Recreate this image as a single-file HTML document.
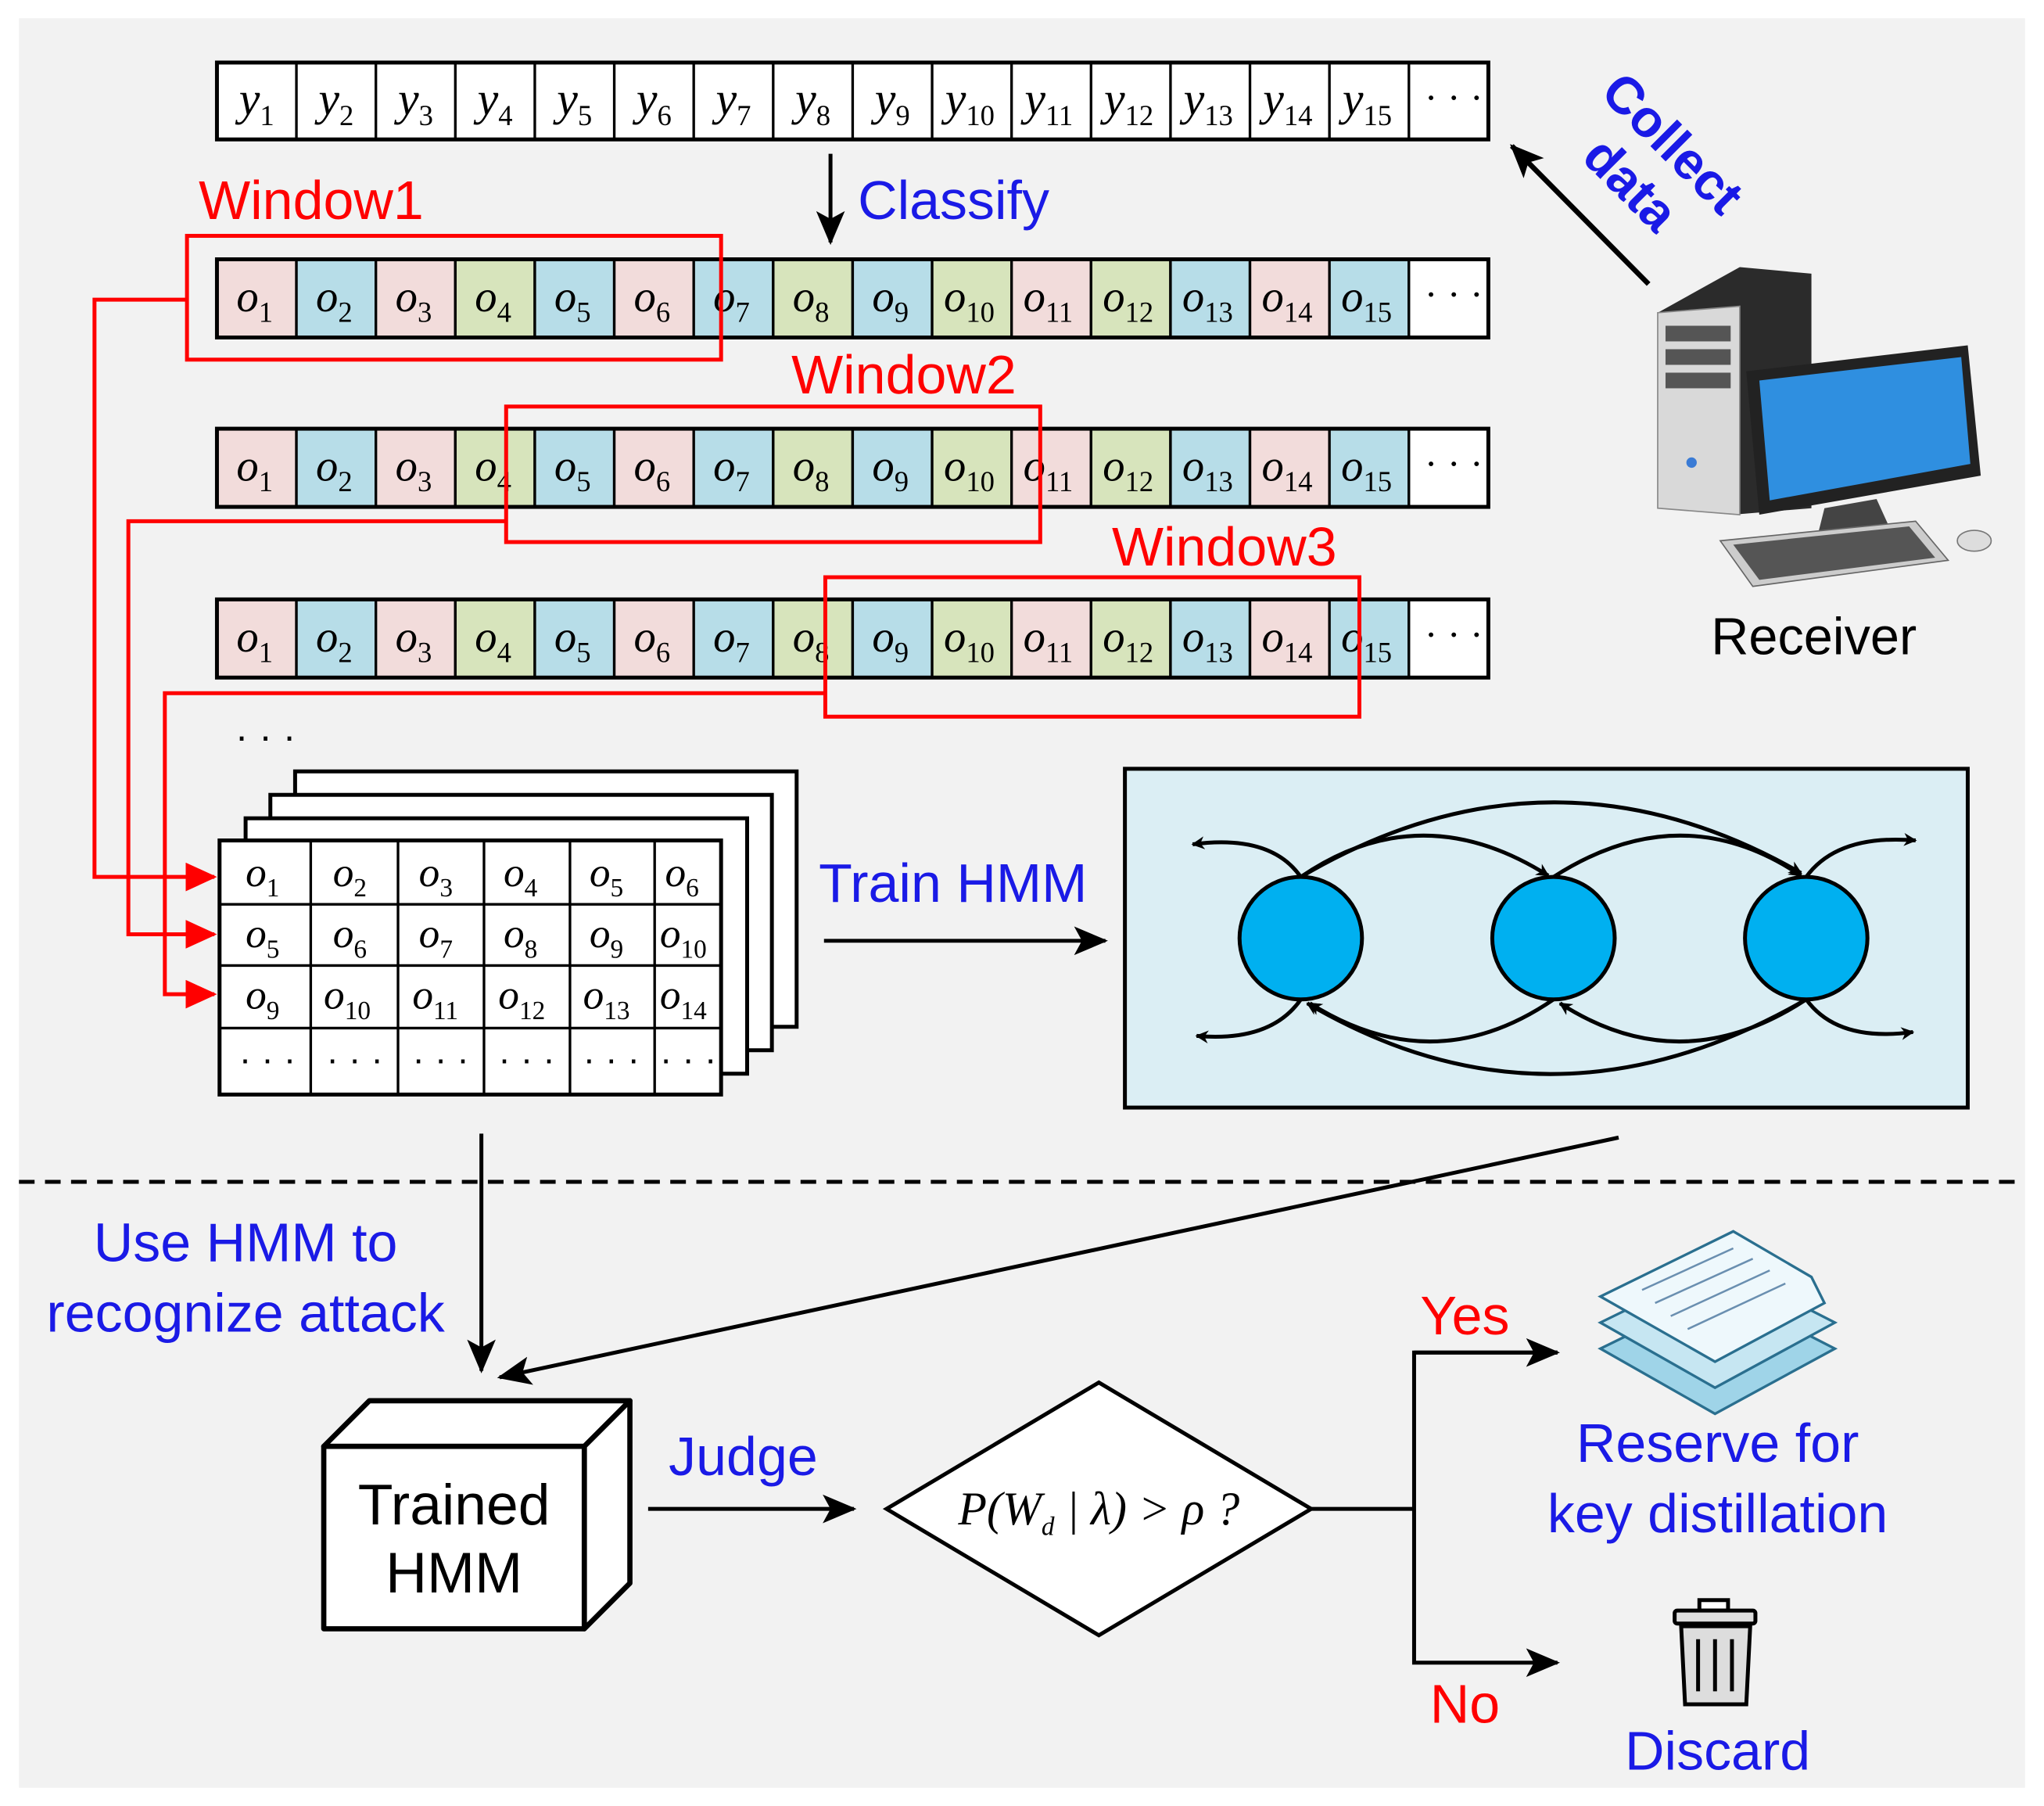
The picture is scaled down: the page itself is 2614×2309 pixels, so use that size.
<!DOCTYPE html>
<html><head><meta charset="utf-8"><style>html,body{margin:0;padding:0;background:#fff}svg{display:block}</style></head>
<body>
<svg width="2614" height="2309" viewBox="0 0 1568 1386" xmlns="http://www.w3.org/2000/svg" font-family="Liberation Sans, sans-serif">
<defs>
<marker id="ab" markerWidth="10" markerHeight="10" refX="9" refY="5" orient="auto" markerUnits="userSpaceOnUse" viewBox="0 0 10 10"><path d="M0,0 L10,5 L0,10 L3,5z" fill="#000"/></marker>
<marker id="abL" markerWidth="26" markerHeight="22" refX="24" refY="11" orient="auto" markerUnits="userSpaceOnUse" viewBox="0 0 26 22"><path d="M0,0 L26,11 L0,22 L6,11z" fill="#000"/></marker>
<marker id="ar" markerWidth="24" markerHeight="22" refX="22" refY="11" orient="auto" markerUnits="userSpaceOnUse" viewBox="0 0 24 22"><path d="M0,0 L24,11 L0,22 z" fill="#f00"/></marker>
<g id="r1">
<g stroke="#000" stroke-width="2">
<rect x="166" y="0" width="61" height="60" fill="#f2dcdb"/><rect x="227" y="0" width="61" height="60" fill="#b7dde8"/><rect x="288" y="0" width="61" height="60" fill="#f2dcdb"/><rect x="349" y="0" width="61" height="60" fill="#d7e4bc"/><rect x="410" y="0" width="61" height="60" fill="#b7dde8"/><rect x="471" y="0" width="61" height="60" fill="#f2dcdb"/><rect x="532" y="0" width="61" height="60" fill="#b7dde8"/><rect x="593" y="0" width="61" height="60" fill="#d7e4bc"/><rect x="654" y="0" width="61" height="60" fill="#b7dde8"/><rect x="715" y="0" width="61" height="60" fill="#d7e4bc"/><rect x="776" y="0" width="61" height="60" fill="#f2dcdb"/><rect x="837" y="0" width="61" height="60" fill="#d7e4bc"/><rect x="898" y="0" width="61" height="60" fill="#b7dde8"/><rect x="959" y="0" width="61" height="60" fill="#f2dcdb"/><rect x="1020" y="0" width="61" height="60" fill="#b7dde8"/><rect x="1081" y="0" width="61" height="60" fill="#fff"/>
<rect x="166" y="0" width="976" height="60" fill="none" stroke-width="3"/>
</g>
<g font-family="Liberation Serif, serif" font-style="italic" font-size="34">
<text x="181" y="40">o<tspan font-size="22" dy="8" font-style="normal">1</tspan></text>
<text x="242" y="40">o<tspan font-size="22" dy="8" font-style="normal">2</tspan></text>
<text x="303" y="40">o<tspan font-size="22" dy="8" font-style="normal">3</tspan></text>
<text x="364" y="40">o<tspan font-size="22" dy="8" font-style="normal">4</tspan></text>
<text x="425" y="40">o<tspan font-size="22" dy="8" font-style="normal">5</tspan></text>
<text x="486" y="40">o<tspan font-size="22" dy="8" font-style="normal">6</tspan></text>
<text x="547" y="40">o<tspan font-size="22" dy="8" font-style="normal">7</tspan></text>
<text x="608" y="40">o<tspan font-size="22" dy="8" font-style="normal">8</tspan></text>
<text x="669" y="40">o<tspan font-size="22" dy="8" font-style="normal">9</tspan></text>
<text x="724" y="40">o<tspan font-size="22" dy="8" font-style="normal">10</tspan></text>
<text x="785" y="40">o<tspan font-size="22" dy="8" font-style="normal">11</tspan></text>
<text x="846" y="40">o<tspan font-size="22" dy="8" font-style="normal">12</tspan></text>
<text x="907" y="40">o<tspan font-size="22" dy="8" font-style="normal">13</tspan></text>
<text x="968" y="40">o<tspan font-size="22" dy="8" font-style="normal">14</tspan></text>
<text x="1029" y="40">o<tspan font-size="22" dy="8" font-style="normal">15</tspan></text>
<text x="1093" y="37" font-style="normal" font-size="30">· · ·</text>
</g>
</g>
</defs>
<rect x="0" y="0" width="1568" height="1386" fill="#fff"/>
<rect x="14" y="14" width="1540" height="1358" fill="#f2f2f2"/>

<!-- y row -->
<rect x="166" y="48" width="976" height="59" stroke="#000" stroke-width="3" fill="#fff"/>
<g stroke="#000" stroke-width="2">
<line x1="227" y1="48" x2="227" y2="107"/><line x1="288" y1="48" x2="288" y2="107"/><line x1="349" y1="48" x2="349" y2="107"/><line x1="410" y1="48" x2="410" y2="107"/><line x1="471" y1="48" x2="471" y2="107"/><line x1="532" y1="48" x2="532" y2="107"/><line x1="593" y1="48" x2="593" y2="107"/><line x1="654" y1="48" x2="654" y2="107"/><line x1="715" y1="48" x2="715" y2="107"/><line x1="776" y1="48" x2="776" y2="107"/><line x1="837" y1="48" x2="837" y2="107"/><line x1="898" y1="48" x2="898" y2="107"/><line x1="959" y1="48" x2="959" y2="107"/><line x1="1020" y1="48" x2="1020" y2="107"/><line x1="1081" y1="48" x2="1081" y2="107"/>
</g>
<g font-family="Liberation Serif, serif" font-style="italic" font-size="36">
<text x="183" y="88">y<tspan font-size="22" dy="8" font-style="normal">1</tspan></text>
<text x="244" y="88">y<tspan font-size="22" dy="8" font-style="normal">2</tspan></text>
<text x="305" y="88">y<tspan font-size="22" dy="8" font-style="normal">3</tspan></text>
<text x="366" y="88">y<tspan font-size="22" dy="8" font-style="normal">4</tspan></text>
<text x="427" y="88">y<tspan font-size="22" dy="8" font-style="normal">5</tspan></text>
<text x="488" y="88">y<tspan font-size="22" dy="8" font-style="normal">6</tspan></text>
<text x="549" y="88">y<tspan font-size="22" dy="8" font-style="normal">7</tspan></text>
<text x="610" y="88">y<tspan font-size="22" dy="8" font-style="normal">8</tspan></text>
<text x="671" y="88">y<tspan font-size="22" dy="8" font-style="normal">9</tspan></text>
<text x="725" y="88">y<tspan font-size="22" dy="8" font-style="normal">10</tspan></text>
<text x="786" y="88">y<tspan font-size="22" dy="8" font-style="normal">11</tspan></text>
<text x="847" y="88">y<tspan font-size="22" dy="8" font-style="normal">12</tspan></text>
<text x="908" y="88">y<tspan font-size="22" dy="8" font-style="normal">13</tspan></text>
<text x="969" y="88">y<tspan font-size="22" dy="8" font-style="normal">14</tspan></text>
<text x="1030" y="88">y<tspan font-size="22" dy="8" font-style="normal">15</tspan></text>
<text x="1093" y="85" font-style="normal" font-size="30">· · ·</text>
</g>

<use href="#r1" transform="translate(0,199)"/>
<use href="#r1" transform="translate(0,329)"/>
<use href="#r1" transform="translate(0,460)"/>

<!-- classify -->
<line x1="637" y1="118" x2="637" y2="186" stroke="#000" stroke-width="3" marker-end="url(#abL)"/>
<text x="658" y="168" font-size="42" fill="#1a1ae6">Classify</text>

<!-- windows -->
<g fill="none" stroke="#f00" stroke-width="3">
<rect x="143" y="181" width="410" height="95"/>
<rect x="388" y="312" width="410" height="104"/>
<rect x="633" y="443" width="410" height="107"/>
<polyline points="143,230 72,230 72,673 164,673" marker-end="url(#ar)"/>
<polyline points="388,400 98,400 98,717 164,717" marker-end="url(#ar)"/>
<polyline points="633,532 126,532 126,763 164,763" marker-end="url(#ar)"/>
</g>
<g font-size="42" fill="#f00">
<text x="152" y="168">Window1</text>
<text x="607" y="302">Window2</text>
<text x="853" y="434">Window3</text>
</g>

<!-- collect data -->
<line x1="1265" y1="218" x2="1160" y2="112" stroke="#000" stroke-width="4" marker-end="url(#abL)"/>
<g font-size="40" font-weight="bold" fill="#1a1ae6" transform="translate(-25,2) rotate(45 1280 120)">
<text x="1225" y="105">Collect</text>
<text x="1250" y="150">data</text>
</g>

<!-- computer -->
<g>
<polygon points="1272,240 1335,205 1390,210 1390,390 1330,395 1272,390" fill="#2b2b2b"/>
<polygon points="1272,240 1335,235 1335,395 1272,390" fill="#d9d9d9" stroke="#888"/>
<rect x="1278" y="250" width="50" height="12" fill="#555"/>
<rect x="1278" y="268" width="50" height="12" fill="#555"/>
<rect x="1278" y="286" width="50" height="12" fill="#555"/>
<circle cx="1298" cy="355" r="4" fill="#3a7bd5"/>
<polygon points="1340,285 1510,265 1520,365 1350,395" fill="#222"/>
<polygon points="1350,292 1505,274 1512,356 1358,384" fill="#2f8fe0"/>
<polygon points="1400,390 1440,383 1450,405 1395,410" fill="#444"/>
<polygon points="1320,415 1470,400 1495,430 1345,450" fill="#ccc" stroke="#666"/>
<polygon points="1330,418 1465,404 1485,428 1350,445" fill="#555"/>
<ellipse cx="1515" cy="415" rx="13" ry="8" fill="#ddd" stroke="#777"/>
</g>
<text x="1313" y="502" font-size="40" fill="#000">Receiver</text>

<!-- table stack -->
<text x="180" y="575" font-size="30">· · ·</text>
<g stroke="#000" stroke-width="3" fill="#fff">
<rect x="226" y="592" width="385" height="196"/>
<rect x="207" y="610" width="385" height="196"/>
<rect x="188" y="628" width="385" height="196"/>
<rect x="168" y="645" width="385" height="195"/>
</g>
<g stroke="#000" stroke-width="2">
<line x1="238" y1="645" x2="238" y2="840"/><line x1="305" y1="645" x2="305" y2="840"/><line x1="371" y1="645" x2="371" y2="840"/><line x1="437" y1="645" x2="437" y2="840"/><line x1="502" y1="645" x2="502" y2="840"/>
<line x1="168" y1="694" x2="553" y2="694"/><line x1="168" y1="741" x2="553" y2="741"/><line x1="168" y1="789" x2="553" y2="789"/>
</g>
<g font-family="Liberation Serif, serif" font-style="italic" font-size="32">
<text x="188" y="680">o<tspan font-size="20" dy="8" font-style="normal">1</tspan></text>
<text x="255" y="680">o<tspan font-size="20" dy="8" font-style="normal">2</tspan></text>
<text x="321" y="680">o<tspan font-size="20" dy="8" font-style="normal">3</tspan></text>
<text x="386" y="680">o<tspan font-size="20" dy="8" font-style="normal">4</tspan></text>
<text x="452" y="680">o<tspan font-size="20" dy="8" font-style="normal">5</tspan></text>
<text x="510" y="680">o<tspan font-size="20" dy="8" font-style="normal">6</tspan></text>
<text x="188" y="727">o<tspan font-size="20" dy="8" font-style="normal">5</tspan></text>
<text x="255" y="727">o<tspan font-size="20" dy="8" font-style="normal">6</tspan></text>
<text x="321" y="727">o<tspan font-size="20" dy="8" font-style="normal">7</tspan></text>
<text x="386" y="727">o<tspan font-size="20" dy="8" font-style="normal">8</tspan></text>
<text x="452" y="727">o<tspan font-size="20" dy="8" font-style="normal">9</tspan></text>
<text x="506" y="727">o<tspan font-size="20" dy="8" font-style="normal">10</tspan></text>
<text x="188" y="774">o<tspan font-size="20" dy="8" font-style="normal">9</tspan></text>
<text x="248" y="774">o<tspan font-size="20" dy="8" font-style="normal">10</tspan></text>
<text x="316" y="774">o<tspan font-size="20" dy="8" font-style="normal">11</tspan></text>
<text x="382" y="774">o<tspan font-size="20" dy="8" font-style="normal">12</tspan></text>
<text x="447" y="774">o<tspan font-size="20" dy="8" font-style="normal">13</tspan></text>
<text x="506" y="774">o<tspan font-size="20" dy="8" font-style="normal">14</tspan></text>
</g>
<g font-size="28"><text x="183" y="822">· · ·</text><text x="250" y="822">· · ·</text><text x="316" y="822">· · ·</text><text x="382" y="822">· · ·</text><text x="447" y="822">· · ·</text><text x="506" y="822">· · ·</text></g>

<!-- train HMM -->
<text x="628" y="692" font-size="42" fill="#1a1ae6">Train HMM</text>
<line x1="632" y1="722" x2="848" y2="722" stroke="#000" stroke-width="3" marker-end="url(#abL)"/>
<rect x="863" y="590" width="647" height="260" fill="#dbeef4" stroke="#000" stroke-width="3"/>
<g fill="none" stroke="#000" stroke-width="3">
<path d="M998,673 Q1090,610 1188,672" marker-end="url(#ab)"/>
<path d="M1192,673 Q1290,610 1382,672" marker-end="url(#ab)"/>
<path d="M998,673 Q1190,560 1382,670" marker-end="url(#ab)"/>
<path d="M1192,767 Q1100,830 1005,770" marker-end="url(#ab)"/>
<path d="M1386,767 Q1290,830 1197,770" marker-end="url(#ab)"/>
<path d="M1386,767 Q1190,880 1003,770" marker-end="url(#ab)"/>
<path d="M998,673 Q975,640 915,648" marker-end="url(#ab)"/>
<path d="M1386,673 Q1410,640 1470,645" marker-end="url(#ab)"/>
<path d="M998,767 Q975,800 918,795" marker-end="url(#ab)"/>
<path d="M1386,767 Q1410,800 1468,792" marker-end="url(#ab)"/>
</g>
<g fill="#00b0f0" stroke="#000" stroke-width="3">
<circle cx="998" cy="720" r="47"/><circle cx="1192" cy="720" r="47"/><circle cx="1386" cy="720" r="47"/>
</g>

<!-- dashed -->
<line x1="14" y1="907" x2="1554" y2="907" stroke="#000" stroke-width="3" stroke-dasharray="12,8"/>

<line x1="369" y1="870" x2="369" y2="1052" stroke="#000" stroke-width="3" marker-end="url(#abL)"/>
<line x1="1242" y1="873" x2="383" y2="1057" stroke="#000" stroke-width="3" marker-end="url(#abL)"/>
<g font-size="42" fill="#1a1ae6" text-anchor="middle">
<text x="188" y="968">Use HMM to</text>
<text x="188" y="1022">recognize attack</text>
</g>

<!-- trained HMM box -->
<g stroke="#000" stroke-width="4" stroke-linejoin="round">
<polygon points="248,1110 283,1075 483,1075 448,1110" fill="#fff"/>
<polygon points="448,1110 483,1075 483,1215 448,1250" fill="#fff"/>
<rect x="248" y="1110" width="200" height="140" fill="#fff"/>
</g>
<g font-size="44" text-anchor="middle"><text x="348" y="1170">Trained</text><text x="348" y="1222">HMM</text></g>

<text x="570" y="1132" font-size="42" fill="#1a1ae6" text-anchor="middle">Judge</text>
<line x1="497" y1="1158" x2="655" y2="1158" stroke="#000" stroke-width="3" marker-end="url(#abL)"/>
<polygon points="680,1158 843,1061 1006,1158 843,1255" fill="#fff" stroke="#000" stroke-width="3"/>
<text x="843" y="1170" font-size="36" text-anchor="middle" font-family="Liberation Serif, serif" font-style="italic">P(W<tspan font-size="20" dy="8">d</tspan><tspan dy="-8"> | λ) &gt; ρ ?</tspan></text>

<g fill="none" stroke="#000" stroke-width="3">
<line x1="1006" y1="1158" x2="1085" y2="1158"/>
<polyline points="1195,1038 1085,1038 1085,1276 1195,1276" marker-end="url(#abL)"/>
<line x1="1085" y1="1038" x2="1195" y2="1038" marker-end="url(#abL)"/>
</g>
<text x="1124" y="1024" font-size="42" fill="#f00" text-anchor="middle">Yes</text>
<text x="1124" y="1322" font-size="42" fill="#f00" text-anchor="middle">No</text>

<!-- docs -->
<g stroke="#2a6f8f" stroke-width="2">
<polygon points="1228,1035 1320,990 1408,1035 1316,1085" fill="#9fd4e8"/>
<polygon points="1228,1015 1320,970 1408,1015 1316,1065" fill="#c6e6f2"/>
<polygon points="1228,995 1330,945 1390,980 1400,1000 1316,1045" fill="#eef8fc"/>
</g>
<g stroke="#6a8fb0" stroke-width="1.5"><line x1="1260" y1="990" x2="1330" y2="958"/><line x1="1270" y1="1000" x2="1345" y2="966"/><line x1="1282" y1="1010" x2="1358" y2="975"/><line x1="1295" y1="1020" x2="1370" y2="985"/></g>
<g font-size="42" fill="#1a1ae6" text-anchor="middle"><text x="1318" y="1122">Reserve for</text><text x="1318" y="1176">key distillation</text></g>

<!-- trash -->
<g stroke="#000" stroke-width="3" fill="#ddd">
<rect x="1304" y="1228" width="22" height="8" fill="#fff"/>
<rect x="1285" y="1236" width="62" height="10" rx="2"/>
<path d="M1290,1248 L1343,1248 L1340,1308 L1293,1308 Z"/>
</g>
<g stroke="#000" stroke-width="3"><line x1="1303" y1="1258" x2="1303" y2="1298"/><line x1="1316" y1="1258" x2="1316" y2="1298"/><line x1="1329" y1="1258" x2="1329" y2="1298"/></g>
<text x="1318" y="1358" font-size="42" fill="#1a1ae6" text-anchor="middle">Discard</text>
</svg>
</body></html>
